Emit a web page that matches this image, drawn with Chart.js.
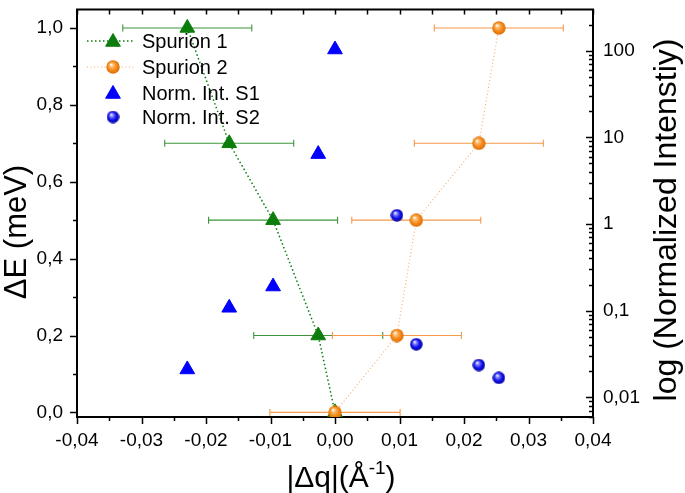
<!DOCTYPE html>
<html><head><meta charset="utf-8">
<script src="https://cdn.jsdelivr.net/npm/chart.js@4"></script>
<style>html,body{margin:0;padding:0;background:#fff}canvas{display:block}</style>
</head><body>
<canvas id="c" width="685" height="493"></canvas>
<script>
// ---- data ----
const spurion1Q   = [-0.0229, -0.0164, -0.0096, -0.0026, 0.0];
const spurion1E   = [1.0, 0.7, 0.5, 0.2, 0.0];
const spurion1Err = [0.01, 0.01, 0.01, 0.01, 0];
const spurion2Q   = [0.0, 0.0096, 0.0126, 0.0223, 0.0254];
const spurion2E   = [0.0, 0.2, 0.5, 0.7, 1.0];
const spurion2Err = [0.0101, 0.01, 0.01, 0.01, 0.01];
const normS1Q = [-0.0229, -0.0164, -0.0096, -0.0026, 0.0];
const normS1I = [0.021, 0.108, 0.19, 6.4, 103];
const normS2Q = [0.0096, 0.0126, 0.0223, 0.0254];
const normS2I = [1.26, 0.041, 0.0236, 0.0168];

const seriesLabels = ['Spurion 1', 'Spurion 2', 'Norm. Int. S1', 'Norm. Int. S2'];

const xTicks = [-0.04, -0.03, -0.02, -0.01, 0, 0.01, 0.02, 0.03, 0.04];
const xTickLabels = ['-0,04', '-0,03', '-0,02', '-0,01', '0,00', '0,01', '0,02', '0,03', '0,04'];
const eTicks = [0, 0.2, 0.4, 0.6, 0.8, 1.0];
const eTickLabels = ['0,0', '0,2', '0,4', '0,6', '0,8', '1,0'];
const iTicks = [0.01, 0.1, 1, 10, 100];
const iTickLabels = ['0,01', '0,1', '1', '10', '100'];

const xTitleMain = '|\u0394q|(\u00C5';
const xTitleSup = '-1';
const xTitleEnd = ')';
const yTitle = '\u0394E (meV)';
const y2Title = 'log (Normalized Intenstiy)';

// ---- styles ----
const FONT = '"Liberation Sans", Arial, Helvetica, sans-serif';
const GREEN = '#0b7d0b';
const GREEN_ERR = '#3c963c';
const ORANGE_LINE = '#f5aa66';
const ORANGE_ERR = '#f39a4c';
const BLUE = '#0000ff';

function makeSphere(base, light, dark, d) {
  const c = document.createElement('canvas');
  c.width = d; c.height = d;
  const g = c.getContext('2d');
  const r = d / 2;
  const grad = g.createRadialGradient(r * 0.72, r * 0.62, r * 0.04, r, r, r);
  grad.addColorStop(0, '#ffffff');
  grad.addColorStop(0.22, light);
  grad.addColorStop(0.6, base);
  grad.addColorStop(1, dark);
  g.fillStyle = grad;
  g.beginPath();
  g.arc(r, r, r - 0.3, 0, Math.PI * 2);
  g.fill();
  return c;
}
const sphereOrange = makeSphere('#f78b18', '#fcc27c', '#d86a08', 14);
const sphereBlue = makeSphere('#1212ee', '#8a8aff', '#00009a', 13);

const toPts = (xs, ys) => xs.map((x, i) => ({x: x, y: ys[i]}));

const datasets = [
  {
    label: seriesLabels[0], data: toPts(spurion1Q, spurion1E), xErr: spurion1Err, errColor: GREEN_ERR,
    yAxisID: 'y', showLine: true, borderColor: GREEN, borderWidth: 1.5, borderDash: [1.5, 2.5],
    pointStyle: 'triangle', pointRadius: 8.5, pointBackgroundColor: GREEN, pointBorderColor: GREEN,
    pointBorderWidth: 1, order: 3
  },
  {
    label: seriesLabels[1], data: toPts(spurion2Q, spurion2E), xErr: spurion2Err, errColor: ORANGE_ERR,
    yAxisID: 'y', showLine: true, borderColor: ORANGE_LINE, borderWidth: 1.1, borderDash: [1, 2.5],
    pointStyle: sphereOrange, pointRadius: 7, order: 2
  },
  {
    label: seriesLabels[2], data: toPts(normS1Q, normS1I),
    yAxisID: 'y2', showLine: false,
    pointStyle: 'triangle', pointRadius: 8.5, pointBackgroundColor: BLUE, pointBorderColor: BLUE,
    pointBorderWidth: 1, order: 1
  },
  {
    label: seriesLabels[3], data: toPts(normS2Q, normS2I),
    yAxisID: 'y2', showLine: false,
    pointStyle: sphereBlue, pointRadius: 6.5, order: 0
  }
];

function drawTriangle(ctx, x, y, r, color) {
  ctx.beginPath();
  let rad = 0;
  ctx.moveTo(x + Math.sin(rad) * r, y - Math.cos(rad) * r);
  rad += 2 * Math.PI / 3;
  ctx.lineTo(x + Math.sin(rad) * r, y - Math.cos(rad) * r);
  rad += 2 * Math.PI / 3;
  ctx.lineTo(x + Math.sin(rad) * r, y - Math.cos(rad) * r);
  ctx.closePath();
  ctx.fillStyle = color; ctx.strokeStyle = color; ctx.lineWidth = 1;
  ctx.fill(); ctx.stroke();
}

const errorBarPlugin = {
  id: 'xerr',
  beforeDatasetsDraw(chart) {
    const ctx = chart.ctx;
    chart.data.datasets.forEach((ds, di) => {
      if (!ds.xErr) return;
      const xs = chart.scales.x, ys = chart.scales[ds.yAxisID];
      ctx.save();
      ctx.strokeStyle = ds.errColor; ctx.lineWidth = 1.1;
      ds.data.forEach((p, i) => {
        const e = ds.xErr[i];
        if (!e) return;
        const x1 = xs.getPixelForValue(p.x - e), x2 = xs.getPixelForValue(p.x + e);
        const y = ys.getPixelForValue(p.y);
        ctx.beginPath();
        ctx.moveTo(x1, y); ctx.lineTo(x2, y);
        ctx.moveTo(x1, y - 3.5); ctx.lineTo(x1, y + 3.5);
        ctx.moveTo(x2, y - 3.5); ctx.lineTo(x2, y + 3.5);
        ctx.stroke();
      });
      ctx.restore();
    });
  }
};

const framePlugin = {
  id: 'frame',
  afterDraw(chart) {
    const ctx = chart.ctx, a = chart.chartArea;
    const xs = chart.scales.x, ys = chart.scales.y, y2 = chart.scales.y2;
    ctx.save();
    ctx.strokeStyle = '#000';
    // top border
    ctx.lineWidth = 2;
    ctx.beginPath(); ctx.moveTo(a.left - 1, a.top); ctx.lineTo(a.right + 1, a.top); ctx.stroke();
    ctx.lineWidth = 1.5;
    ctx.beginPath();
    // x ticks (bottom outward, top inward)
    for (let k = 0; k <= 16; k++) {
      const v = xs.min + k * (xs.max - xs.min) / 16;
      const px = Math.round(xs.getPixelForValue(v)) + 0.5;
      const major = k % 2 === 0;
      ctx.moveTo(px, a.bottom); ctx.lineTo(px, a.bottom + (major ? 7 : 4));
      ctx.moveTo(px, a.top); ctx.lineTo(px, a.top + 5);
    }
    // left ticks outward
    for (let k = 0; k <= 10; k++) {
      const v = k / 10;
      const py = Math.round(ys.getPixelForValue(v)) + 0.5;
      const major = k % 2 === 0;
      ctx.moveTo(a.left, py); ctx.lineTo(a.left - (major ? 7 : 4), py);
    }
    // right log ticks inward
    for (let e = -3; e <= 3; e++) {
      for (let m = 1; m <= 9; m++) {
        const v = m * Math.pow(10, e);
        if (v < y2.min || v > y2.max) continue;
        const py = Math.round(y2.getPixelForValue(v)) + 0.5;
        ctx.moveTo(a.right, py); ctx.lineTo(a.right - (m === 1 ? 7 : 4), py);
      }
    }
    ctx.stroke();

    // axis titles
    ctx.fillStyle = '#000';
    ctx.textAlign = 'center';
    ctx.textBaseline = 'middle';
    ctx.save();
    ctx.translate(17, 232); ctx.rotate(-Math.PI / 2);
    ctx.font = '31px ' + FONT;
    ctx.fillText(yTitle, 0, 0);
    ctx.restore();
    ctx.save();
    ctx.translate(667, 220); ctx.rotate(-Math.PI / 2);
    ctx.font = '32px ' + FONT;
    ctx.fillText(y2Title, 0, 0);
    ctx.restore();
    // bottom title with superscript
    ctx.textAlign = 'left';
    ctx.textBaseline = 'alphabetic';
    const bigF = '30px ' + FONT, supF = '19px ' + FONT;
    ctx.font = bigF; const w1 = ctx.measureText(xTitleMain).width, w3 = ctx.measureText(xTitleEnd).width;
    ctx.font = supF; const w2 = ctx.measureText(xTitleSup).width;
    const total = w1 + w2 + w3;
    let sx = 341 - total / 2;
    const base = 487;
    ctx.font = bigF; ctx.fillText(xTitleMain, sx, base); sx += w1;
    ctx.font = supF; ctx.fillText(xTitleSup, sx, base - 13); sx += w2;
    ctx.font = bigF; ctx.fillText(xTitleEnd, sx, base);
    ctx.restore();
  }
};

const legendPlugin = {
  id: 'insideLegend',
  afterDraw(chart) {
    const ctx = chart.ctx;
    const rows = [41, 67, 93, 117];
    ctx.save();
    chart.data.datasets.forEach((ds, i) => {
      const y = rows[i];
      if (ds.showLine) {
        ctx.save();
        ctx.strokeStyle = ds.borderColor; ctx.lineWidth = ds.borderWidth;
        ctx.setLineDash(ds.borderDash || []);
        ctx.beginPath(); ctx.moveTo(87, y); ctx.lineTo(134, y); ctx.stroke();
        ctx.restore();
      }
      if (ds.pointStyle === 'triangle') {
        drawTriangle(ctx, 113, y + 1, ds.pointRadius, ds.pointBackgroundColor);
      } else {
        const img = ds.pointStyle;
        ctx.drawImage(img, 113 - img.width / 2, y - img.height / 2);
      }
      ctx.fillStyle = '#000';
      ctx.font = '20px ' + FONT;
      ctx.textAlign = 'left'; ctx.textBaseline = 'middle';
      ctx.fillText(ds.label, 142, y + 1);
    });
    ctx.restore();
  }
};

const tickFont = {family: FONT, size: 19};

new Chart(document.getElementById('c'), {
  type: 'scatter',
  data: {datasets: datasets},
  plugins: [errorBarPlugin, framePlugin, legendPlugin],
  options: {
    responsive: false,
    animation: false,
    devicePixelRatio: 1,
    layout: {padding: {top: 1, left: 0, right: 0, bottom: 0}},
    plugins: {legend: {display: false}, tooltip: {enabled: false}},
    scales: {
      x: {
        type: 'linear', position: 'bottom', min: -0.04, max: 0.04,
        afterBuildTicks: s => { s.ticks = xTicks.map(v => ({value: v})); },
        afterFit: s => { s.height = 76; s.paddingLeft = 0; s.paddingRight = 0; },
        ticks: {callback: (v, i) => xTickLabels[i], font: tickFont, color: '#000', padding: 12, maxRotation: 0, autoSkip: false},
        grid: {display: false, drawTicks: false},
        border: {display: true, color: '#000', width: 2}
      },
      y: {
        type: 'linear', position: 'left', min: -0.012, max: 1.048,
        afterBuildTicks: s => { s.ticks = eTicks.map(v => ({value: v})); },
        afterFit: s => { s.width = 77; s.paddingTop = 0; s.paddingBottom = 0; },
        ticks: {callback: (v, i) => eTickLabels[i], font: tickFont, color: '#000', padding: 14, autoSkip: false},
        grid: {display: false, drawTicks: false},
        border: {display: true, color: '#000', width: 2}
      },
      y2: {
        type: 'logarithmic', position: 'right', min: 0.00594, max: 298,
        afterBuildTicks: s => { s.ticks = iTicks.map(v => ({value: v})); },
        afterFit: s => { s.width = 92; s.paddingTop = 0; s.paddingBottom = 0; },
        ticks: {callback: (v, i) => iTickLabels[i], font: tickFont, color: '#000', padding: 10, autoSkip: false},
        grid: {display: false, drawTicks: false},
        border: {display: true, color: '#000', width: 2}
      }
    }
  }
});
</script>
</body></html>
